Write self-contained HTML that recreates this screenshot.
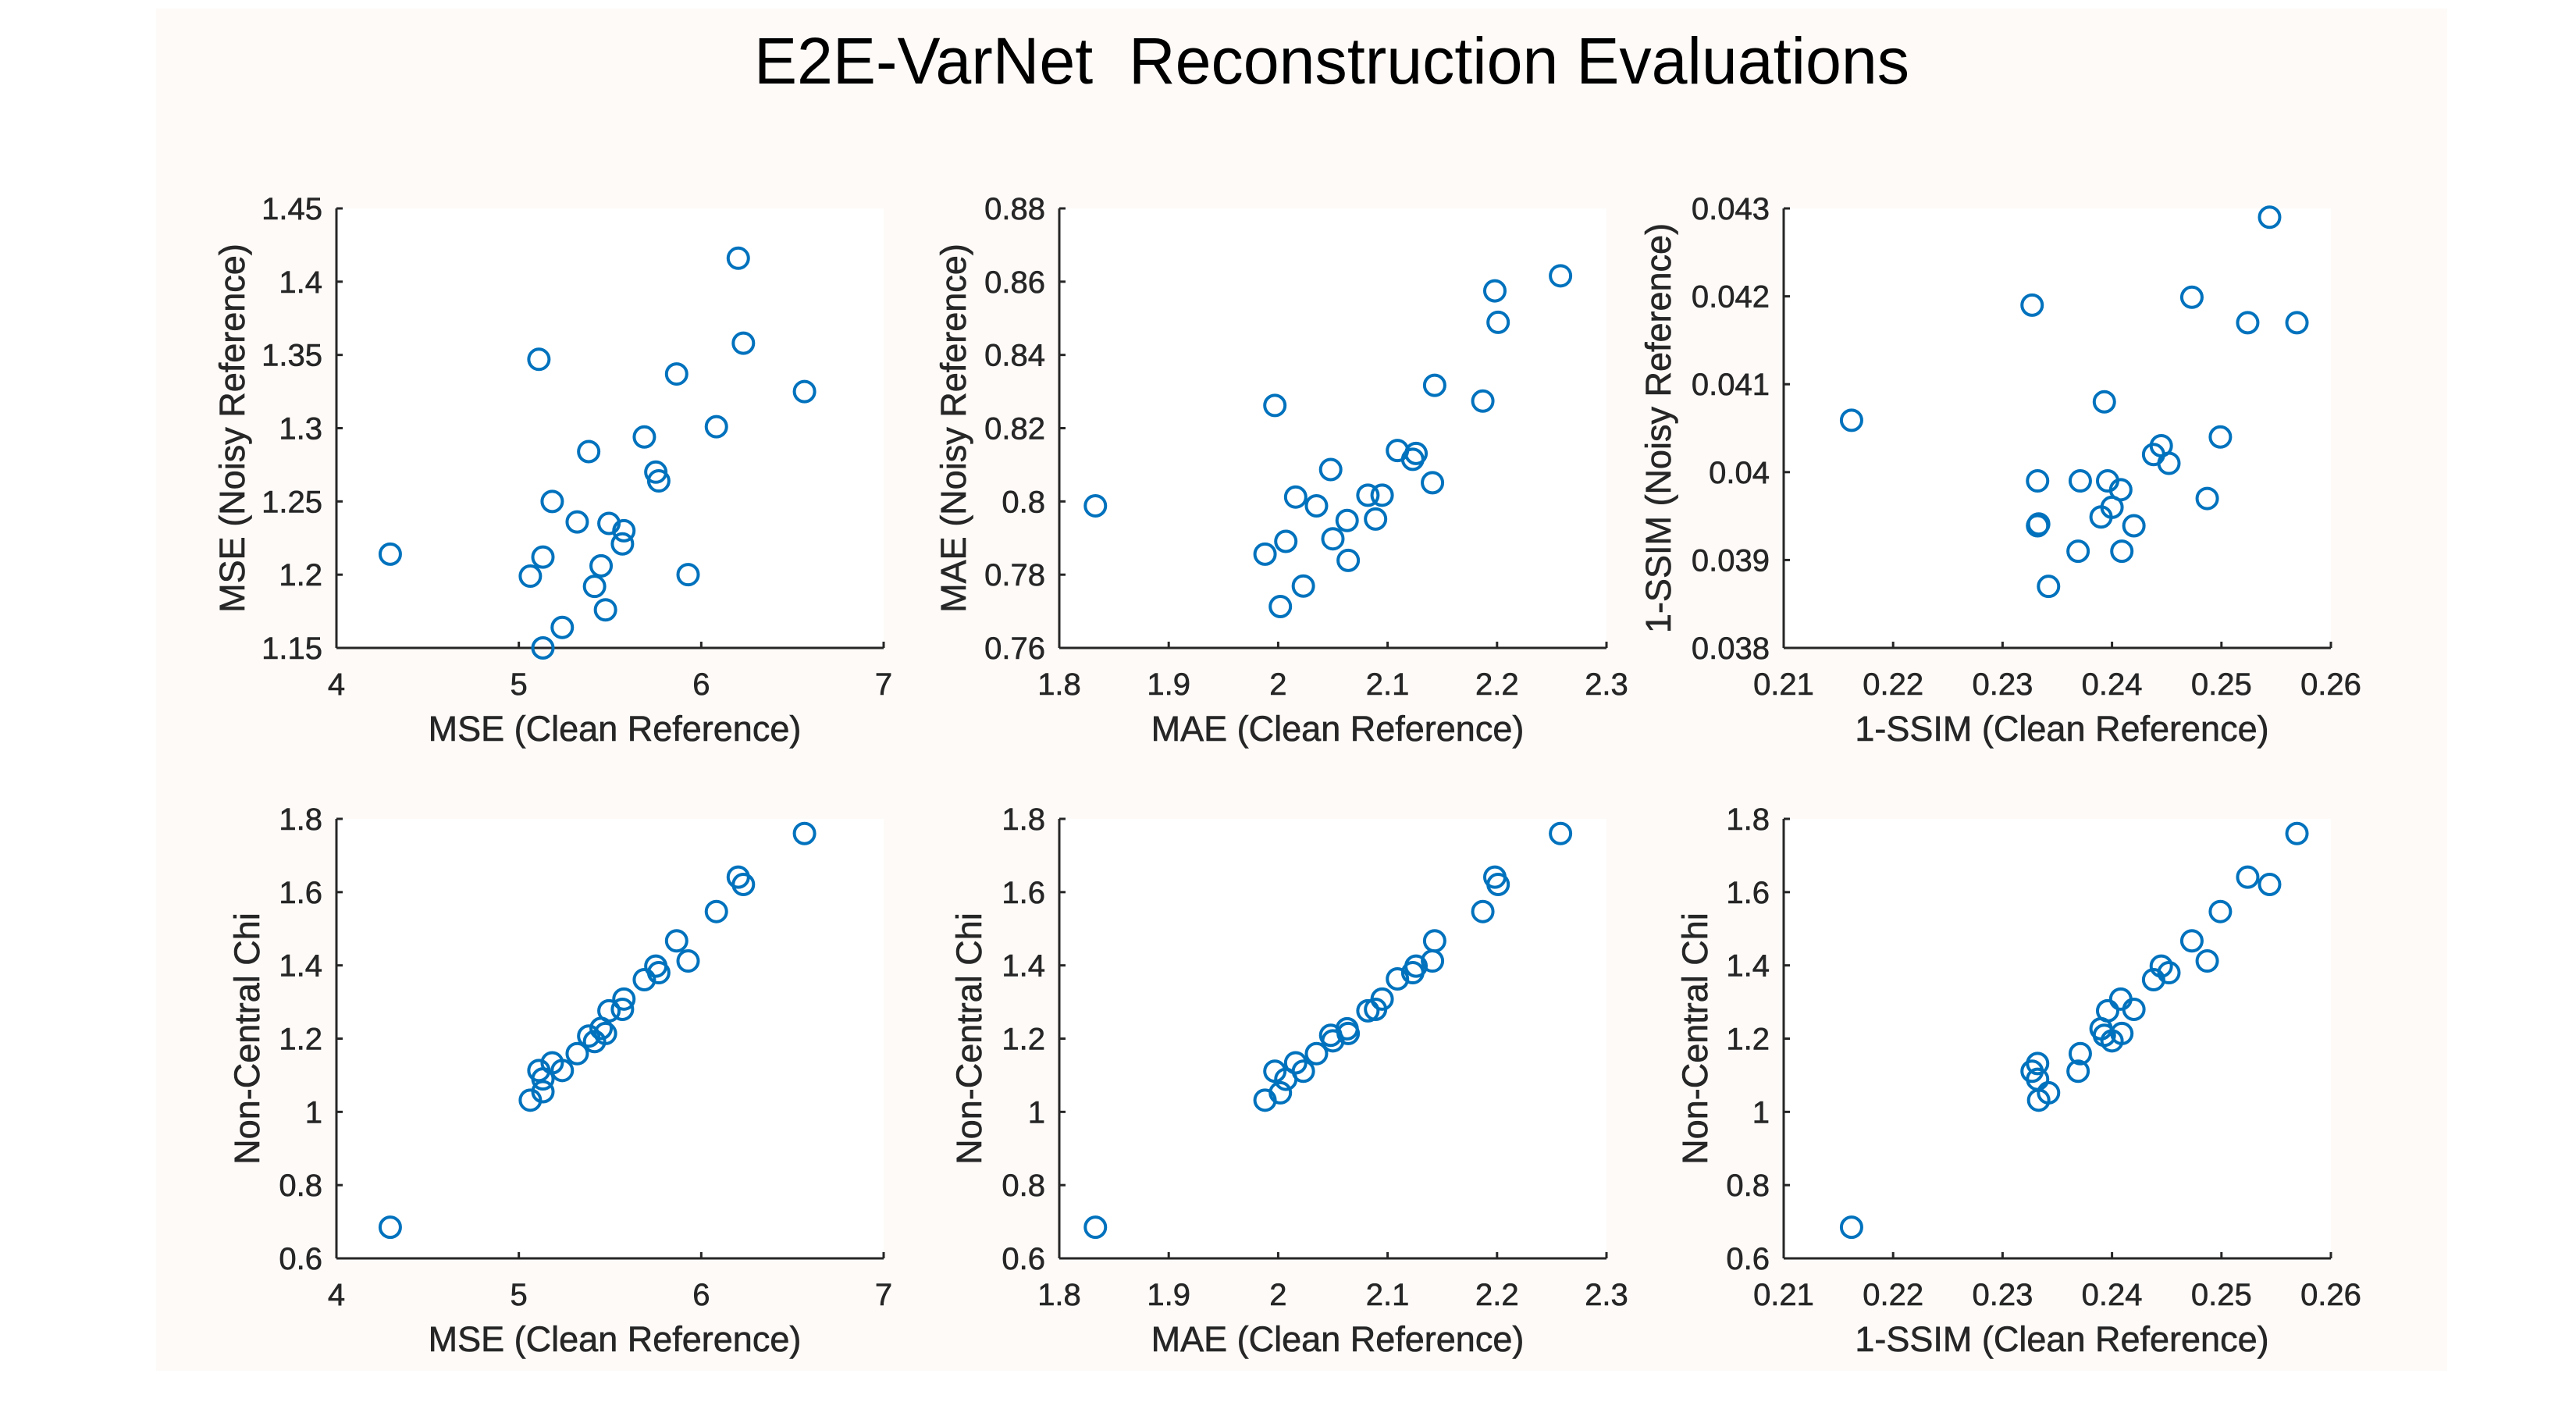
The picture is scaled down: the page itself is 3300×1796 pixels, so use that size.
<!DOCTYPE html>
<html><head><meta charset="utf-8"><style>
html,body{margin:0;padding:0;background:#fff;}
svg{display:block;font-family:"Liberation Sans",Arial,sans-serif;}
</style></head><body>
<svg id="fig" width="3300" height="1796" viewBox="0 0 3300 1796" xmlns="http://www.w3.org/2000/svg">
<rect x="200" y="11" width="2935" height="1745" fill="#fdfaf8"/>
<text x="1706" y="107" font-size="84" text-anchor="middle" textLength="1480" lengthAdjust="spacingAndGlyphs" fill="#000">E2E-VarNet&#160; Reconstruction Evaluations</text>
<g id="plots"></g>
</svg>
<script>
// Data: x values (clean reference) per metric
const mseClean = [4.295,5.063,5.110,5.132,5.132,5.183,5.238,5.320,5.383,5.415,5.451,5.475,5.494,5.576,5.568,5.688,5.751,5.767,5.865,5.928,6.083,6.203,6.231,6.566];
const mseNoisy = [1.214,1.199,1.347,1.212,1.150,1.250,1.164,1.236,1.284,1.192,1.206,1.176,1.235,1.230,1.221,1.294,1.270,1.264,1.337,1.200,1.301,1.416,1.358,1.325];
const nccByMse = [0.685,1.032,1.113,1.090,1.055,1.134,1.113,1.159,1.207,1.192,1.228,1.214,1.276,1.308,1.280,1.361,1.398,1.380,1.467,1.412,1.547,1.641,1.621,1.760];

const maeClean = [1.833,1.988,1.997,2.002,2.007,2.016,2.023,2.035,2.048,2.050,2.063,2.064,2.082,2.089,2.095,2.109,2.123,2.126,2.141,2.143,2.187,2.198,2.201,2.258];
const maeNoisy = [0.7988,0.7856,0.8262,0.7713,0.7891,0.8012,0.7769,0.7988,0.8087,0.7898,0.7948,0.7839,0.8017,0.7952,0.8017,0.8139,0.8115,0.8131,0.8051,0.8317,0.8274,0.8575,0.8489,0.8616];
const nccByMae = [0.685,1.032,1.111,1.052,1.089,1.134,1.111,1.159,1.209,1.194,1.227,1.214,1.276,1.280,1.308,1.363,1.380,1.398,1.412,1.467,1.547,1.641,1.621,1.760];

const ssimClean = [0.2162,0.2327,0.2332,0.2332,0.2333,0.2342,0.2369,0.2371,0.2390,0.2393,0.2396,0.2400,0.2408,0.2409,0.2420,0.2438,0.2445,0.2452,0.2473,0.2487,0.2499,0.2524,0.2544,0.2569];
const ssimNoisy = [0.04059,0.04190,0.03990,0.03939,0.03941,0.03870,0.03910,0.03990,0.03949,0.04080,0.03990,0.03960,0.03980,0.03910,0.03939,0.04020,0.04030,0.04010,0.04199,0.03970,0.04040,0.04170,0.04290,0.04170];
const nccBySsim = [0.685,1.111,1.132,1.089,1.032,1.052,1.111,1.159,1.227,1.209,1.276,1.194,1.308,1.214,1.280,1.361,1.398,1.380,1.467,1.412,1.547,1.641,1.621,1.760];

const mseTicks = [4,5,6,7];
const maeTicks = [1.8,1.9,2,2.1,2.2,2.3];
const ssimTicks = [0.21,0.22,0.23,0.24,0.25,0.26];
const mseNoisyTicks = [1.15,1.2,1.25,1.3,1.35,1.4,1.45];
const maeNoisyTicks = [0.76,0.78,0.8,0.82,0.84,0.86,0.88];
const ssimNoisyTicks = [0.038,0.039,0.04,0.041,0.042,0.043];
const nccTicks = [0.6,0.8,1,1.2,1.4,1.6,1.8];

const NS = "http://www.w3.org/2000/svg";
const root = document.getElementById('plots');
function mk(tag, attrs, parent){
  const e = document.createElementNS(NS, tag);
  for (const k in attrs) e.setAttribute(k, attrs[k]);
  (parent||root).appendChild(e);
  return e;
}
const panels = [
  {id:'mse-noisy', left:431, top:267, xs:mseClean, ys:mseNoisy, xt:mseTicks, yt:mseNoisyTicks, xl:'MSE (Clean Reference)', yl:'MSE (Noisy Reference)', ylOff:134},
  {id:'mae-noisy', left:1357, top:267, xs:maeClean, ys:maeNoisy, xt:maeTicks, yt:maeNoisyTicks, xl:'MAE (Clean Reference)', yl:'MAE (Noisy Reference)', ylOff:136},
  {id:'ssim-noisy', left:2285, top:267, xs:ssimClean, ys:ssimNoisy, xt:ssimTicks, yt:ssimNoisyTicks, xl:'1-SSIM (Clean Reference)', yl:'1-SSIM (Noisy Reference)', ylOff:161},
  {id:'mse-ncc', left:431, top:1049, xs:mseClean, ys:nccByMse, xt:mseTicks, yt:nccTicks, xl:'MSE (Clean Reference)', yl:'Non-Central Chi', ylOff:115},
  {id:'mae-ncc', left:1357, top:1049, xs:maeClean, ys:nccByMae, xt:maeTicks, yt:nccTicks, xl:'MAE (Clean Reference)', yl:'Non-Central Chi', ylOff:116},
  {id:'ssim-ncc', left:2285, top:1049, xs:ssimClean, ys:nccBySsim, xt:ssimTicks, yt:nccTicks, xl:'1-SSIM (Clean Reference)', yl:'Non-Central Chi', ylOff:114}
];
const W = 701, H = 563;
panels.forEach(p => {
  const g = mk('g', {});
  
  
  const x0 = p.xt[0], x1 = p.xt[p.xt.length-1];
  const y0 = p.yt[0], y1 = p.yt[p.yt.length-1];
  const sx = v => p.left + (v - x0) / (x1 - x0) * W;
  const sy = v => p.top + H - (v - y0) / (y1 - y0) * H;
  const bg = mk('rect', {x:p.left, y:p.top, width:W, height:H, fill:'#fff'}, g);
  
  
  const ya = mk('line', {x1:p.left, y1:p.top, x2:p.left, y2:p.top+H, stroke:'#262626', 'stroke-width':3}, g);
  
  
  const xa = mk('line', {x1:p.left, y1:p.top+H, x2:p.left+W, y2:p.top+H, stroke:'#262626', 'stroke-width':3}, g);
  
  
  p.xt.forEach(t => {
    const x = sx(t);
    mk('line', {x1:x, y1:p.top+H, x2:x, y2:p.top+H-8, stroke:'#262626', 'stroke-width':3}, g);
    const tl = mk('text', {x:x, y:p.top+H+60, 'font-size':40, 'text-anchor':'middle', fill:'#262626', stroke:'#262626', 'stroke-width':0.6}, g);
    
    
    tl.textContent = String(t);
  });
  p.yt.forEach(t => {
    const y = sy(t);
    mk('line', {x1:p.left, y1:y, x2:p.left+8, y2:y, stroke:'#262626', 'stroke-width':3}, g);
    const tl = mk('text', {x:p.left-18, y:y+14, 'font-size':40, 'text-anchor':'end', fill:'#262626', stroke:'#262626', 'stroke-width':0.6}, g);
    
    
    tl.textContent = String(t);
  });
  const xl = mk('text', {x:p.left+W/2+6, y:p.top+H+119, 'font-size':45, 'text-anchor':'middle', fill:'#262626', stroke:'#262626', 'stroke-width':0.6}, g);
  
  
  xl.textContent = p.xl;
  const lx = p.left - p.ylOff + 16, ly = p.top + H/2;
  const yl = mk('text', {x:lx, y:ly, 'font-size':45, 'text-anchor':'middle', fill:'#262626', stroke:'#262626', 'stroke-width':0.6, transform:'rotate(-90 '+lx+' '+ly+')'}, g);
  
  
  yl.textContent = p.yl;
  p.xs.forEach((xv, i) => {
    const c = mk('ellipse', {cx:sx(xv), cy:sy(p.ys[i]), rx:13, ry:13, fill:'none', stroke:'#0072BD', 'stroke-width':4}, g);
    
    
  });
});
</script>
</body></html>
